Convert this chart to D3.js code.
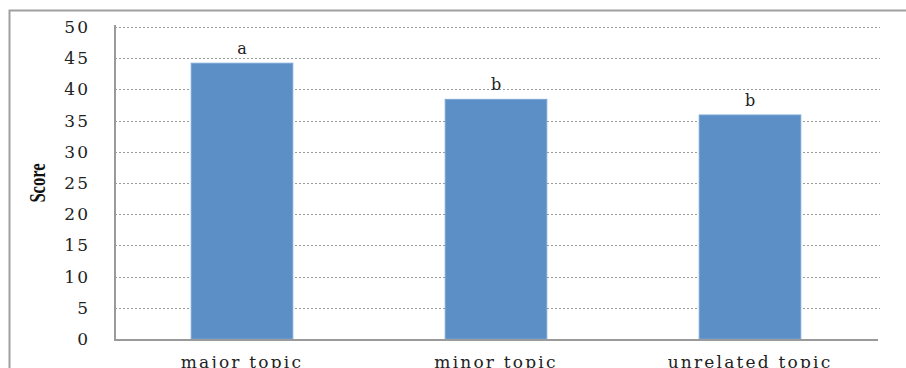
<!DOCTYPE html>
<html>
<head>
<meta charset="utf-8">
<script src="https://cdn.jsdelivr.net/npm/d3@7"></script>
<style>
  body { margin: 0; background: #fff; }
  svg { display: block; }
</style>
</head>
<body>
<div id="chart"></div>
<script>
var categories = ["major topic", "minor topic", "unrelated topic"],
    scores = [44.2, 38.4, 35.9],
    letters = ["a", "b", "b"],
    yTicks = [0, 5, 10, 15, 20, 25, 30, 35, 40, 45, 50];

var width = 906,
    height = 368;

var margin = { top: 27, right: 29, bottom: 29, left: 115 },
    innerWidth = width - margin.left - margin.right,
    innerHeight = height - margin.top - margin.bottom;

var svg = d3.select("#chart").append("svg")
    .attr("width", width)
    .attr("height", height);

// outer frame (runs off the right and bottom edges)
svg.append("rect")
    .attr("x", 9.5)
    .attr("y", 10.5)
    .attr("width", 920)
    .attr("height", 400)
    .attr("fill", "none")
    .attr("stroke", "#a0a0a0")
    .attr("stroke-width", 2);

var g = svg.append("g")
    .attr("transform", "translate(" + margin.left + "," + margin.top + ")");

var x = d3.scaleBand()
    .domain(categories)
    .range([0, innerWidth])
    .paddingInner(0.6)
    .paddingOuter(0.3);

var y = d3.scaleLinear()
    .domain([0, 50])
    .range([innerHeight, 0]);

// dotted gridlines
g.append("g")
  .selectAll("line")
  .data(yTicks.filter(d => d > 0))
  .join("line")
    .attr("x1", 0)
    .attr("x2", innerWidth + 3)
    .attr("y1", d => Math.round(y(d)) + 0.5)
    .attr("y2", d => Math.round(y(d)) + 0.5)
    .attr("stroke", "#9a9a9a")
    .attr("stroke-width", 1)
    .attr("stroke-dasharray", "2,2");

// bars
g.append("g")
  .selectAll("rect")
  .data(scores)
  .join("rect")
    .attr("x", (d, i) => x(categories[i]))
    .attr("y", d => y(d))
    .attr("width", x.bandwidth())
    .attr("height", d => innerHeight - y(d))
    .attr("fill", "#5b8fc5")
    .attr("stroke", "#7aa5d5")
    .attr("stroke-width", 1);

// significance letters
g.append("g")
  .selectAll("text")
  .data(scores)
  .join("text")
    .attr("x", (d, i) => x(categories[i]) + x.bandwidth() / 2)
    .attr("y", d => y(d) - 9)
    .attr("text-anchor", "middle")
    .attr("font-family", "DejaVu Serif, serif")
    .attr("font-size", "16px")
    .attr("fill", "#222")
    .text((d, i) => letters[i]);

// y axis
var yAxis = d3.axisLeft(y)
    .tickValues(yTicks)
    .tickSize(0)
    .tickPadding(25);

g.append("g")
    .call(yAxis)
    .call(a => a.select(".domain").remove())
    .call(a => a.selectAll("text")
      .attr("font-family", "DejaVu Serif, serif")
      .attr("font-size", "17px")
      .attr("letter-spacing", "2px")
      .attr("fill", "#222"));

g.append("line")
    .attr("x1", 0).attr("x2", 0)
    .attr("y1", -2).attr("y2", innerHeight)
    .attr("stroke", "#9a9a9a")
    .attr("stroke-width", 2);

// x axis
var xAxis = d3.axisBottom(x)
    .tickSize(0)
    .tickPadding(17);

g.append("g")
    .attr("transform", "translate(0," + innerHeight + ")")
    .call(xAxis)
    .call(a => a.select(".domain").remove())
    .call(a => a.selectAll("text")
      .attr("font-family", "DejaVu Serif, serif")
      .attr("font-size", "17px")
      .attr("letter-spacing", "2.2px")
      .attr("fill", "#222"));

g.append("line")
    .attr("x1", -1).attr("x2", innerWidth + 1)
    .attr("y1", innerHeight + 1).attr("y2", innerHeight + 1)
    .attr("stroke", "#9a9a9a")
    .attr("stroke-width", 2);

// y axis title
svg.append("text")
    .attr("transform", "translate(45,183) rotate(-90) scale(0.72,1)")
    .attr("text-anchor", "middle")
    .attr("font-family", "Liberation Serif, serif")
    .attr("font-weight", "bold")
    .attr("font-size", "23px")
    .attr("fill", "#111")
    .text("Score");
</script>
</body>
</html>
